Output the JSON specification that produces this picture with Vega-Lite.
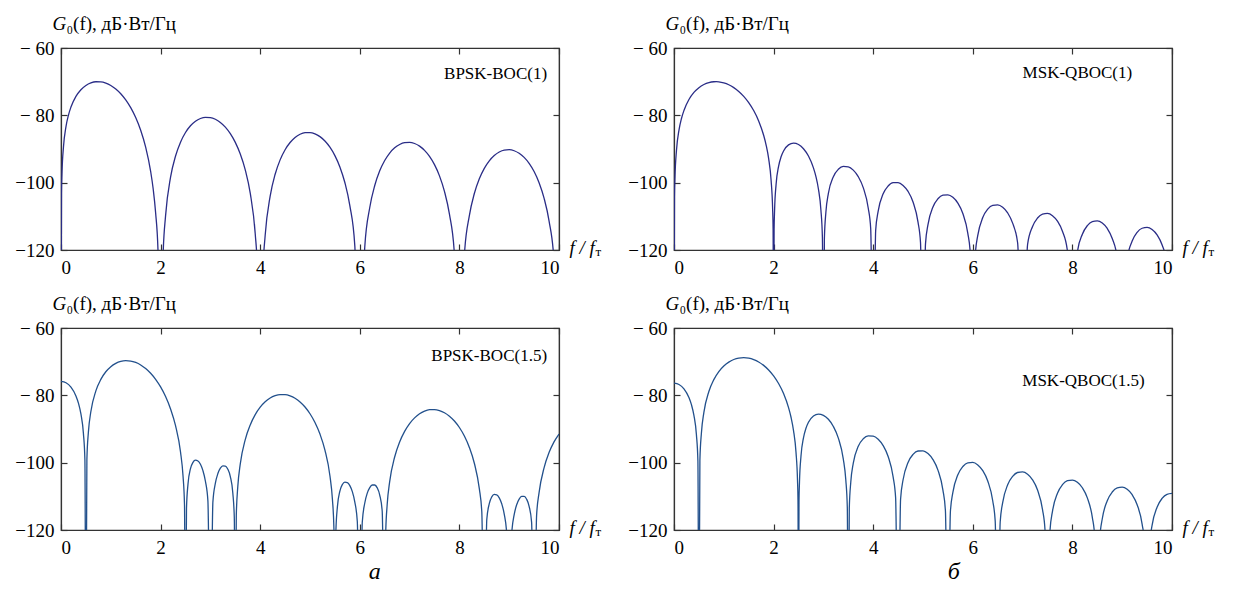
{
  "$schema": "https://vega.github.io/schema/vega-lite/v6.json",
  "padding": {"left": 14, "top": 13, "right": 5, "bottom": 5},
  "background": "#ffffff",
  "config": {
    "view": {"stroke": "#333333", "strokeWidth": 1.2},
    "axis": {
      "grid": false,
      "labelFont": "Liberation Serif", "labelFontSize": 19, "labelColor": "#000000",
      "titleFont": "Liberation Serif", "titleFontSize": 19, "titleColor": "#000000", "titleFontWeight": "normal",
      "domainColor": "#333333", "domainWidth": 1.2,
      "tickColor": "#333333", "tickWidth": 1.2, "tickSize": -6
    },
    "axisX": {"labelPadding": 14, "labelFlush": true},
    "axisY": {"labelPadding": 13, "labelFlush": false}
  },
  "datasets": {
    "p1": [{"f":0,"g":-160},{"f":0.01,"g":-103.3},{"f":0.02,"g":-97.2},{"f":0.05,"g":-89.33},{"f":0.1,"g":-83.36},{"f":0.15,"g":-79.92},{"f":0.2,"g":-77.55},{"f":0.3,"g":-74.39},{"f":0.4,"g":-72.4},{"f":0.5,"g":-71.13},{"f":0.6,"g":-70.37},{"f":0.7,"g":-70.03},{"f":0.8,"g":-70.06},{"f":0.9,"g":-70.42},{"f":1.0,"g":-71.13},{"f":1.1,"g":-72.17},{"f":1.2,"g":-73.58},{"f":1.3,"g":-75.41},{"f":1.4,"g":-77.73},{"f":1.5,"g":-80.67},{"f":1.6,"g":-84.44},{"f":1.7,"g":-89.46},{"f":1.8,"g":-96.64},{"f":1.85,"g":-101.74},{"f":1.9,"g":-108.94},{"f":1.95,"g":-121.1},{"f":2.0,"g":-160},
      {"f":2.05,"g":-121.6},{"f":2.1,"g":-109.8},{"f":2.2,"g":-98.38},{"f":2.3,"g":-92.08},{"f":2.4,"g":-87.96},{"f":2.5,"g":-85.1},{"f":2.6,"g":-83.11},{"f":2.7,"g":-81.76},{"f":2.8,"g":-80.94},{"f":2.9,"g":-80.59},{"f":3.0,"g":-80.67},{"f":3.1,"g":-81.17},{"f":3.2,"g":-82.1},{"f":3.3,"g":-83.5},{"f":3.4,"g":-85.44},{"f":3.5,"g":-88.03},{"f":3.6,"g":-91.49},{"f":3.7,"g":-96.2},{"f":3.8,"g":-103.13},{"f":3.9,"g":-115.18},{"f":3.95,"g":-127.3},{"f":4.0,"g":-160},
      {"f":4.05,"g":-127.5},{"f":4.1,"g":-115.6},{"f":4.2,"g":-103.99},{"f":4.3,"g":-97.5},{"f":4.4,"g":-93.23},{"f":4.5,"g":-90.21},{"f":4.6,"g":-88.07},{"f":4.7,"g":-86.57},{"f":4.8,"g":-85.62},{"f":4.9,"g":-85.14},{"f":5.0,"g":-85.11},{"f":5.1,"g":-85.49},{"f":5.2,"g":-86.32},{"f":5.3,"g":-87.62},{"f":5.4,"g":-89.46},{"f":5.5,"g":-91.96},{"f":5.6,"g":-95.32},{"f":5.7,"g":-99.96},{"f":5.8,"g":-106.8},{"f":5.9,"g":-118.78},{"f":6.0,"g":-160},
      {"f":6.1,"g":-119.07},{"f":6.2,"g":-107.38},{"f":6.3,"g":-100.84},{"f":6.4,"g":-96.48},{"f":6.5,"g":-93.41},{"f":6.6,"g":-91.2},{"f":6.7,"g":-89.65},{"f":6.8,"g":-88.65},{"f":6.9,"g":-88.12},{"f":7.0,"g":-88.03},{"f":7.1,"g":-88.37},{"f":7.2,"g":-89.15},{"f":7.3,"g":-90.4},{"f":7.4,"g":-92.19},{"f":7.5,"g":-94.65},{"f":7.6,"g":-97.98},{"f":7.7,"g":-102.58},{"f":7.8,"g":-109.37},{"f":7.9,"g":-121.3},{"f":8.0,"g":-160},
      {"f":8.1,"g":-121.5},{"f":8.2,"g":-109.81},{"f":8.3,"g":-103.23},{"f":8.4,"g":-98.85},{"f":8.5,"g":-95.74},{"f":8.6,"g":-93.5},{"f":8.7,"g":-91.92},{"f":8.8,"g":-90.89},{"f":8.9,"g":-90.33},{"f":9.0,"g":-90.21},{"f":9.1,"g":-90.52},{"f":9.2,"g":-91.28},{"f":9.3,"g":-92.5},{"f":9.4,"g":-94.27},{"f":9.5,"g":-96.7},{"f":9.6,"g":-100.01},{"f":9.7,"g":-104.58},{"f":9.8,"g":-111.35},{"f":9.9,"g":-123.3},{"f":10.0,"g":-160}],
    "p2": [{"f":0,"g":-160},{"f":0.01,"g":-104.3},{"f":0.02,"g":-98.3},{"f":0.05,"g":-90.37},{"f":0.1,"g":-84.39},{"f":0.15,"g":-80.94},{"f":0.2,"g":-78.55},{"f":0.3,"g":-75.3},{"f":0.4,"g":-73.2},{"f":0.5,"g":-71.78},{"f":0.6,"g":-70.84},{"f":0.7,"g":-70.27},{"f":0.8,"g":-70.03},{"f":0.85,"g":-70.01},{"f":0.9,"g":-70.06},{"f":1.0,"g":-70.36},{"f":1.1,"g":-70.92},{"f":1.2,"g":-71.77},{"f":1.3,"g":-72.9},{"f":1.4,"g":-74.36},{"f":1.5,"g":-76.22},{"f":1.6,"g":-78.58},{"f":1.7,"g":-81.65},{"f":1.8,"g":-85.91},{"f":1.85,"g":-88.83},{"f":1.9,"g":-92.81},{"f":1.95,"g":-99.34},{"f":1.98,"g":-107.63},{"f":1.99,"g":-113.77},{"f":2.0,"g":-160},
      {"f":2.01,"g":-114.0},{"f":2.02,"g":-108.09},{"f":2.05,"g":-100.5},{"f":2.1,"g":-95.14},{"f":2.15,"g":-92.32},{"f":2.2,"g":-90.59},{"f":2.3,"g":-88.77},{"f":2.4,"g":-88.27},{"f":2.5,"g":-88.68},{"f":2.6,"g":-89.92},{"f":2.7,"g":-92.09},{"f":2.8,"g":-95.6},{"f":2.85,"g":-98.19},{"f":2.9,"g":-101.88},{"f":2.95,"g":-108.12},{"f":2.98,"g":-116.25},{"f":3.0,"g":-160},
      {"f":3.02,"g":-116.51},{"f":3.05,"g":-108.77},{"f":3.1,"g":-103.18},{"f":3.2,"g":-98.21},{"f":3.3,"g":-96.02},{"f":3.4,"g":-95.19},{"f":3.5,"g":-95.3},{"f":3.6,"g":-96.27},{"f":3.7,"g":-98.19},{"f":3.8,"g":-101.47},{"f":3.9,"g":-107.53},{"f":3.95,"g":-113.68},{"f":4.0,"g":-160},
      {"f":4.05,"g":-114.14},{"f":4.1,"g":-108.46},{"f":4.2,"g":-103.32},{"f":4.3,"g":-100.98},{"f":4.4,"g":-99.99},{"f":4.5,"g":-99.97},{"f":4.6,"g":-100.81},{"f":4.7,"g":-102.6},{"f":4.8,"g":-105.76},{"f":4.9,"g":-111.72},{"f":4.95,"g":-117.81},{"f":5.0,"g":-160},
      {"f":5.05,"g":-118.18},{"f":5.1,"g":-112.44},{"f":5.2,"g":-107.21},{"f":5.3,"g":-104.78},{"f":5.4,"g":-103.71},{"f":5.5,"g":-103.6},{"f":5.6,"g":-104.36},{"f":5.7,"g":-106.08},{"f":5.8,"g":-109.18},{"f":5.9,"g":-115.06},{"f":5.95,"g":-121.1},{"f":6.0,"g":-160},
      {"f":6.05,"g":-121.4},{"f":6.1,"g":-115.66},{"f":6.2,"g":-110.37},{"f":6.3,"g":-107.87},{"f":6.4,"g":-106.75},{"f":6.5,"g":-106.59},{"f":6.6,"g":-107.3},{"f":6.7,"g":-108.97},{"f":6.8,"g":-112.01},{"f":6.9,"g":-117.85},{"f":7.0,"g":-160},
      {"f":7.1,"g":-118.36},{"f":7.2,"g":-113.02},{"f":7.3,"g":-110.49},{"f":7.4,"g":-109.33},{"f":7.5,"g":-109.13},{"f":7.6,"g":-109.8},{"f":7.7,"g":-111.43},{"f":7.8,"g":-114.44},{"f":7.9,"g":-120.25},{"f":8.0,"g":-160},
      {"f":8.1,"g":-120.69},{"f":8.2,"g":-115.32},{"f":8.3,"g":-112.76},{"f":8.4,"g":-111.56},{"f":8.5,"g":-111.34},{"f":8.6,"g":-111.98},{"f":8.7,"g":-113.59},{"f":8.8,"g":-116.57},{"f":8.9,"g":-122.35},{"f":9.0,"g":-160},
      {"f":9.1,"g":-122.74},{"f":9.2,"g":-117.35},{"f":9.3,"g":-114.76},{"f":9.4,"g":-113.54},{"f":9.5,"g":-113.29},{"f":9.6,"g":-113.91},{"f":9.7,"g":-115.5},{"f":9.8,"g":-118.46},{"f":9.9,"g":-124.2},{"f":10.0,"g":-160}],
    "p3": [{"f":0,"g":-75.86},{"f":0.1,"g":-76.27},{"f":0.2,"g":-77.57},{"f":0.3,"g":-80.18},{"f":0.35,"g":-82.31},{"f":0.4,"g":-85.53},{"f":0.45,"g":-91.29},{"f":0.48,"g":-99.12},{"f":0.5,"g":-160},{"f":0.52,"g":-98.98},{"f":0.55,"g":-90.93},{"f":0.6,"g":-84.8},{"f":0.7,"g":-78.69},{"f":0.8,"g":-75.25},{"f":0.9,"g":-73.0},{"f":1.0,"g":-71.49},{"f":1.1,"g":-70.5},{"f":1.2,"g":-69.92},{"f":1.3,"g":-69.71},{"f":1.4,"g":-69.81},{"f":1.5,"g":-70.24},{"f":1.6,"g":-70.97},{"f":1.7,"g":-72.04},{"f":1.8,"g":-73.45},{"f":1.9,"g":-75.25},{"f":2.0,"g":-77.51},{"f":2.1,"g":-80.36},{"f":2.2,"g":-84.04},{"f":2.3,"g":-89.02},{"f":2.4,"g":-96.84},{"f":2.45,"g":-103.9},{"f":2.48,"g":-112.55},{"f":2.5,"g":-160},
      {"f":2.52,"g":-113.53},{"f":2.55,"g":-106.36},{"f":2.6,"g":-101.79},{"f":2.65,"g":-99.89},{"f":2.7,"g":-99.27},{"f":2.75,"g":-99.5},{"f":2.8,"g":-100.49},{"f":2.85,"g":-102.37},{"f":2.9,"g":-105.52},{"f":2.95,"g":-111.39},{"f":3.0,"g":-160},
      {"f":3.05,"g":-111.68},{"f":3.1,"g":-106.1},{"f":3.15,"g":-103.24},{"f":3.2,"g":-101.65},{"f":3.25,"g":-100.95},{"f":3.3,"g":-101.01},{"f":3.35,"g":-101.93},{"f":3.4,"g":-104.12},{"f":3.45,"g":-108.99},{"f":3.48,"g":-116.33},{"f":3.5,"g":-160},
      {"f":3.52,"g":-115.59},{"f":3.55,"g":-107.12},{"f":3.6,"g":-100.37},{"f":3.7,"g":-93.15},{"f":3.8,"g":-88.79},{"f":3.9,"g":-85.74},{"f":4.0,"g":-83.53},{"f":4.1,"g":-81.93},{"f":4.2,"g":-80.8},{"f":4.3,"g":-80.1},{"f":4.4,"g":-79.76},{"f":4.5,"g":-79.78},{"f":4.6,"g":-80.15},{"f":4.7,"g":-80.87},{"f":4.8,"g":-81.96},{"f":4.9,"g":-83.47},{"f":5.0,"g":-85.47},{"f":5.1,"g":-88.07},{"f":5.2,"g":-91.51},{"f":5.3,"g":-96.28},{"f":5.4,"g":-103.89},{"f":5.45,"g":-110.85},{"f":5.48,"g":-119.44},{"f":5.5,"g":-160},
      {"f":5.52,"g":-120.34},{"f":5.55,"g":-113.12},{"f":5.6,"g":-108.45},{"f":5.65,"g":-106.47},{"f":5.7,"g":-105.76},{"f":5.75,"g":-105.9},{"f":5.8,"g":-106.82},{"f":5.85,"g":-108.61},{"f":5.9,"g":-111.69},{"f":5.95,"g":-117.48},{"f":6.0,"g":-160},
      {"f":6.05,"g":-117.63},{"f":6.1,"g":-111.98},{"f":6.15,"g":-109.05},{"f":6.2,"g":-107.4},{"f":6.25,"g":-106.63},{"f":6.3,"g":-106.63},{"f":6.35,"g":-107.49},{"f":6.4,"g":-109.61},{"f":6.45,"g":-114.42},{"f":6.5,"g":-160},
      {"f":6.52,"g":-120.95},{"f":6.55,"g":-112.44},{"f":6.6,"g":-105.63},{"f":6.7,"g":-98.31},{"f":6.8,"g":-93.84},{"f":6.9,"g":-90.7},{"f":7.0,"g":-88.39},{"f":7.1,"g":-86.7},{"f":7.2,"g":-85.49},{"f":7.3,"g":-84.7},{"f":7.4,"g":-84.27},{"f":7.5,"g":-84.22},{"f":7.6,"g":-84.51},{"f":7.7,"g":-85.16},{"f":7.8,"g":-86.18},{"f":7.9,"g":-87.62},{"f":8.0,"g":-89.55},{"f":8.1,"g":-92.09},{"f":8.2,"g":-95.47},{"f":8.3,"g":-100.17},{"f":8.4,"g":-107.73},{"f":8.45,"g":-114.66},{"f":8.5,"g":-160},
      {"f":8.55,"g":-116.87},{"f":8.6,"g":-112.18},{"f":8.65,"g":-110.17},{"f":8.7,"g":-109.43},{"f":8.75,"g":-109.55},{"f":8.8,"g":-110.44},{"f":8.85,"g":-112.21},{"f":8.9,"g":-115.26},{"f":8.95,"g":-121.03},{"f":9.0,"g":-160},
      {"f":9.05,"g":-121.12},{"f":9.1,"g":-115.45},{"f":9.15,"g":-112.5},{"f":9.2,"g":-110.83},{"f":9.25,"g":-110.03},{"f":9.3,"g":-110.01},{"f":9.35,"g":-110.85},{"f":9.4,"g":-112.95},{"f":9.45,"g":-117.74},{"f":9.5,"g":-160},
      {"f":9.55,"g":-115.72},{"f":9.6,"g":-108.89},{"f":9.7,"g":-101.53},{"f":9.8,"g":-97.01},{"f":9.9,"g":-93.83},{"f":10.0,"g":-91.49}],
    "p4": [{"f":0,"g":-76.39},{"f":0.1,"g":-76.79},{"f":0.2,"g":-78.08},{"f":0.3,"g":-80.66},{"f":0.35,"g":-82.77},{"f":0.4,"g":-85.95},{"f":0.45,"g":-91.68},{"f":0.48,"g":-99.5},{"f":0.5,"g":-160},{"f":0.52,"g":-99.32},{"f":0.55,"g":-91.25},{"f":0.6,"g":-85.08},{"f":0.7,"g":-78.88},{"f":0.8,"g":-75.33},{"f":0.9,"g":-72.95},{"f":1.0,"g":-71.29},{"f":1.1,"g":-70.13},{"f":1.2,"g":-69.36},{"f":1.3,"g":-68.93},{"f":1.4,"g":-68.8},{"f":1.5,"g":-68.95},{"f":1.6,"g":-69.38},{"f":1.7,"g":-70.09},{"f":1.8,"g":-71.1},{"f":1.9,"g":-72.46},{"f":2.0,"g":-74.21},{"f":2.1,"g":-76.48},{"f":2.2,"g":-79.46},{"f":2.3,"g":-83.63},{"f":2.35,"g":-86.51},{"f":2.4,"g":-90.46},{"f":2.45,"g":-96.95},{"f":2.48,"g":-105.21},{"f":2.49,"g":-111.34},{"f":2.5,"g":-160},
      {"f":2.51,"g":-111.56},{"f":2.52,"g":-105.65},{"f":2.55,"g":-98.03},{"f":2.6,"g":-92.63},{"f":2.65,"g":-89.79},{"f":2.7,"g":-88.02},{"f":2.8,"g":-86.14},{"f":2.9,"g":-85.58},{"f":3.0,"g":-85.94},{"f":3.1,"g":-87.12},{"f":3.2,"g":-89.24},{"f":3.3,"g":-92.7},{"f":3.4,"g":-98.93},{"f":3.45,"g":-105.15},{"f":3.48,"g":-113.27},{"f":3.5,"g":-160},
      {"f":3.52,"g":-113.51},{"f":3.55,"g":-105.76},{"f":3.6,"g":-100.15},{"f":3.7,"g":-95.14},{"f":3.8,"g":-92.91},{"f":3.9,"g":-92.04},{"f":4.0,"g":-92.12},{"f":4.1,"g":-93.05},{"f":4.2,"g":-94.93},{"f":4.3,"g":-98.18},{"f":4.4,"g":-104.22},{"f":4.45,"g":-110.35},{"f":4.5,"g":-160},
      {"f":4.55,"g":-110.78},{"f":4.6,"g":-105.08},{"f":4.7,"g":-99.92},{"f":4.8,"g":-97.55},{"f":4.9,"g":-96.54},{"f":5.0,"g":-96.49},{"f":5.1,"g":-97.3},{"f":5.2,"g":-99.08},{"f":5.3,"g":-102.22},{"f":5.4,"g":-108.15},{"f":5.45,"g":-114.23},{"f":5.5,"g":-160},
      {"f":5.55,"g":-114.57},{"f":5.6,"g":-108.83},{"f":5.7,"g":-103.58},{"f":5.8,"g":-101.13},{"f":5.9,"g":-100.04},{"f":6.0,"g":-99.92},{"f":6.1,"g":-100.66},{"f":6.2,"g":-102.36},{"f":6.3,"g":-105.44},{"f":6.4,"g":-111.31},{"f":6.45,"g":-117.36},{"f":6.5,"g":-160},
      {"f":6.55,"g":-117.64},{"f":6.6,"g":-111.87},{"f":6.7,"g":-106.57},{"f":6.8,"g":-104.06},{"f":6.9,"g":-102.92},{"f":7.0,"g":-102.75},{"f":7.1,"g":-103.44},{"f":7.2,"g":-105.1},{"f":7.3,"g":-108.13},{"f":7.4,"g":-113.95},{"f":7.45,"g":-119.99},{"f":7.5,"g":-160},
      {"f":7.55,"g":-120.23},{"f":7.6,"g":-114.44},{"f":7.7,"g":-109.09},{"f":7.8,"g":-106.55},{"f":7.9,"g":-105.37},{"f":8.0,"g":-105.16},{"f":8.1,"g":-105.82},{"f":8.2,"g":-107.45},{"f":8.3,"g":-110.45},{"f":8.4,"g":-116.24},{"f":8.45,"g":-122.26},{"f":8.5,"g":-160},
      {"f":8.55,"g":-122.47},{"f":8.6,"g":-116.66},{"f":8.7,"g":-111.29},{"f":8.8,"g":-108.71},{"f":8.9,"g":-107.51},{"f":9.0,"g":-107.28},{"f":9.1,"g":-107.91},{"f":9.2,"g":-109.51},{"f":9.3,"g":-112.48},{"f":9.4,"g":-118.25},{"f":9.45,"g":-124.26},{"f":9.5,"g":-160},
      {"f":9.55,"g":-124.44},{"f":9.6,"g":-118.63},{"f":9.7,"g":-113.23},{"f":9.8,"g":-110.63},{"f":9.9,"g":-109.41},{"f":10.0,"g":-109.15}]
  },
  "spacing": 25,
  "hconcat": [
    {
      "vconcat": [
        {
          "width": 498, "height": 202,
          "resolve": {"axis": {"x": "independent", "y": "independent"}},
          "layer": [
            {
              "data": {"name": "p1"},
              "mark": {"type": "line", "clip": true, "interpolate": "monotone", "color": "#2a2d87", "strokeWidth": 1.3},
              "encoding": {
                "x": {"field": "f", "type": "quantitative", "scale": {"domain": [0, 10], "nice": false, "zero": false},
                  "axis": {"orient": "bottom", "values": [0, 2, 4, 6, 8, 10], "title": "f / f", "titleFontStyle": "italic", "titleAngle": 0, "titleAlign": "left", "titleBaseline": "alphabetic", "titleX": 508, "titleY": 3}},
                "y": {"field": "g", "type": "quantitative", "scale": {"domain": [-120, -60], "nice": false, "zero": false},
                  "axis": {"orient": "left", "values": [-120, -100, -80, -60], "labelExpr": "datum.value > -100 ? '− ' + abs(datum.value) : '−' + abs(datum.value)", "title": "G", "titleFontStyle": "italic", "titleAngle": 0, "titleAlign": "left", "titleBaseline": "alphabetic", "titleX": -9, "titleY": -19}}
              }
            },
            {
              "data": {"values": [{"label": "BPSK-BOC(1)"}]},
              "mark": {"type": "text", "align": "right", "baseline": "middle", "font": "Liberation Serif", "fontSize": 17, "color": "#000000"},
              "encoding": {
                "x": {"datum": 9.76, "type": "quantitative", "axis": {"orient": "top", "values": [0, 2, 4, 6, 8, 10], "labels": false, "title": "т", "titleFontSize": 13, "titleAngle": 0, "titleAlign": "left", "titleBaseline": "alphabetic", "titleX": 534, "titleY": 207}},
                "y": {"datum": -67.6, "type": "quantitative", "axis": {"orient": "right", "values": [-120, -100, -80, -60], "labels": false, "title": "₀(f), дБ·Вт/Гц", "titleAngle": 0, "titleAlign": "left", "titleBaseline": "alphabetic", "titleX": -493, "titleY": -19}},
                "text": {"field": "label"}
              }
            }
          ]
        },
        {
          "width": 498, "height": 202,
          "resolve": {"axis": {"x": "independent", "y": "independent"}},
          "layer": [
            {
              "data": {"name": "p3"},
              "mark": {"type": "line", "clip": true, "interpolate": "monotone", "color": "#22508c", "strokeWidth": 1.3},
              "encoding": {
                "x": {"field": "f", "type": "quantitative", "scale": {"domain": [0, 10], "nice": false, "zero": false},
                  "axis": {"orient": "bottom", "values": [0, 2, 4, 6, 8, 10], "title": "f / f", "titleFontStyle": "italic", "titleAngle": 0, "titleAlign": "left", "titleBaseline": "alphabetic", "titleX": 508, "titleY": 3}},
                "y": {"field": "g", "type": "quantitative", "scale": {"domain": [-120, -60], "nice": false, "zero": false},
                  "axis": {"orient": "left", "values": [-120, -100, -80, -60], "labelExpr": "datum.value > -100 ? '− ' + abs(datum.value) : '−' + abs(datum.value)", "title": "G", "titleFontStyle": "italic", "titleAngle": 0, "titleAlign": "left", "titleBaseline": "alphabetic", "titleX": -9, "titleY": -19}}
              }
            },
            {
              "data": {"values": [{"label": "BPSK-BOC(1.5)"}]},
              "mark": {"type": "text", "align": "right", "baseline": "middle", "font": "Liberation Serif", "fontSize": 17, "color": "#000000"},
              "encoding": {
                "x": {"datum": 9.76, "type": "quantitative", "axis": {"orient": "top", "values": [0, 2, 4, 6, 8, 10], "labels": false, "title": "т", "titleFontSize": 13, "titleAngle": 0, "titleAlign": "left", "titleBaseline": "alphabetic", "titleX": 534, "titleY": 207}},
                "y": {"datum": -68.3, "type": "quantitative", "axis": {"orient": "right", "values": [-120, -100, -80, -60], "labels": false, "title": "₀(f), дБ·Вт/Гц", "titleAngle": 0, "titleAlign": "left", "titleBaseline": "alphabetic", "titleX": -493, "titleY": -19}},
                "text": {"field": "label"}
              }
            }
          ]
        }
      ],
      "spacing": 78,
      "bounds": "flush",
      "title": {"text": "а", "orient": "bottom", "font": "Liberation Serif", "fontSize": 24, "fontStyle": "italic", "fontWeight": "normal", "color": "#000000", "anchor": "middle", "dx": 67, "offset": 2}
    },
    {
      "vconcat": [
        {
          "width": 498, "height": 202,
          "resolve": {"axis": {"x": "independent", "y": "independent"}},
          "layer": [
            {
              "data": {"name": "p2"},
              "mark": {"type": "line", "clip": true, "interpolate": "monotone", "color": "#2a2d87", "strokeWidth": 1.3},
              "encoding": {
                "x": {"field": "f", "type": "quantitative", "scale": {"domain": [0, 10], "nice": false, "zero": false},
                  "axis": {"orient": "bottom", "values": [0, 2, 4, 6, 8, 10], "title": "f / f", "titleFontStyle": "italic", "titleAngle": 0, "titleAlign": "left", "titleBaseline": "alphabetic", "titleX": 508, "titleY": 3}},
                "y": {"field": "g", "type": "quantitative", "scale": {"domain": [-120, -60], "nice": false, "zero": false},
                  "axis": {"orient": "left", "values": [-120, -100, -80, -60], "labelExpr": "datum.value > -100 ? '− ' + abs(datum.value) : '−' + abs(datum.value)", "title": "G", "titleFontStyle": "italic", "titleAngle": 0, "titleAlign": "left", "titleBaseline": "alphabetic", "titleX": -9, "titleY": -19}}
              }
            },
            {
              "data": {"values": [{"label": "MSK-QBOC(1)"}]},
              "mark": {"type": "text", "align": "right", "baseline": "middle", "font": "Liberation Serif", "fontSize": 17, "color": "#000000"},
              "encoding": {
                "x": {"datum": 9.2, "type": "quantitative", "axis": {"orient": "top", "values": [0, 2, 4, 6, 8, 10], "labels": false, "title": "т", "titleFontSize": 13, "titleAngle": 0, "titleAlign": "left", "titleBaseline": "alphabetic", "titleX": 534, "titleY": 207}},
                "y": {"datum": -67.4, "type": "quantitative", "axis": {"orient": "right", "values": [-120, -100, -80, -60], "labels": false, "title": "₀(f), дБ·Вт/Гц", "titleAngle": 0, "titleAlign": "left", "titleBaseline": "alphabetic", "titleX": -493, "titleY": -19}},
                "text": {"field": "label"}
              }
            }
          ]
        },
        {
          "width": 498, "height": 202,
          "resolve": {"axis": {"x": "independent", "y": "independent"}},
          "layer": [
            {
              "data": {"name": "p4"},
              "mark": {"type": "line", "clip": true, "interpolate": "monotone", "color": "#22508c", "strokeWidth": 1.3},
              "encoding": {
                "x": {"field": "f", "type": "quantitative", "scale": {"domain": [0, 10], "nice": false, "zero": false},
                  "axis": {"orient": "bottom", "values": [0, 2, 4, 6, 8, 10], "title": "f / f", "titleFontStyle": "italic", "titleAngle": 0, "titleAlign": "left", "titleBaseline": "alphabetic", "titleX": 508, "titleY": 3}},
                "y": {"field": "g", "type": "quantitative", "scale": {"domain": [-120, -60], "nice": false, "zero": false},
                  "axis": {"orient": "left", "values": [-120, -100, -80, -60], "labelExpr": "datum.value > -100 ? '− ' + abs(datum.value) : '−' + abs(datum.value)", "title": "G", "titleFontStyle": "italic", "titleAngle": 0, "titleAlign": "left", "titleBaseline": "alphabetic", "titleX": -9, "titleY": -19}}
              }
            },
            {
              "data": {"values": [{"label": "MSK-QBOC(1.5)"}]},
              "mark": {"type": "text", "align": "right", "baseline": "middle", "font": "Liberation Serif", "fontSize": 17, "color": "#000000"},
              "encoding": {
                "x": {"datum": 9.45, "type": "quantitative", "axis": {"orient": "top", "values": [0, 2, 4, 6, 8, 10], "labels": false, "title": "т", "titleFontSize": 13, "titleAngle": 0, "titleAlign": "left", "titleBaseline": "alphabetic", "titleX": 534, "titleY": 207}},
                "y": {"datum": -75.7, "type": "quantitative", "axis": {"orient": "right", "values": [-120, -100, -80, -60], "labels": false, "title": "₀(f), дБ·Вт/Гц", "titleAngle": 0, "titleAlign": "left", "titleBaseline": "alphabetic", "titleX": -493, "titleY": -19}},
                "text": {"field": "label"}
              }
            }
          ]
        }
      ],
      "spacing": 78,
      "bounds": "flush",
      "title": {"text": "б", "orient": "bottom", "font": "Liberation Serif", "fontSize": 24, "fontStyle": "italic", "fontWeight": "normal", "color": "#000000", "anchor": "middle", "dx": 33, "offset": 2}
    }
  ]
}
